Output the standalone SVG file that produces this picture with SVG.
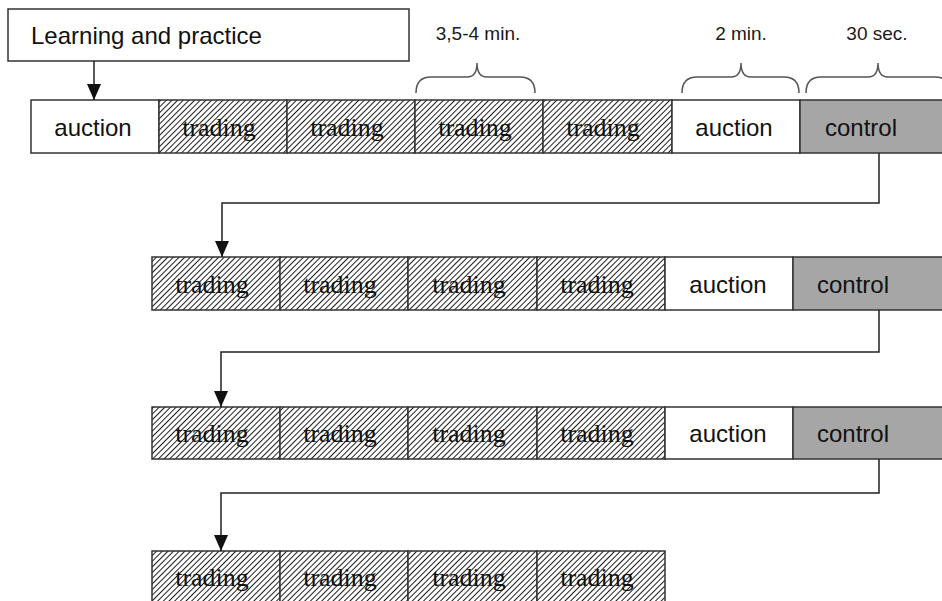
<svg xmlns="http://www.w3.org/2000/svg" width="942" height="601" viewBox="0 0 942 601">
<defs>
<pattern id="hatch" patternUnits="userSpaceOnUse" width="4" height="4" patternTransform="rotate(45)">
<rect width="4" height="4" fill="#ffffff"/>
<line x1="0" y1="0" x2="0" y2="4" stroke="#111" stroke-width="1.9"/>
</pattern>
<marker id="arr" markerWidth="16" markerHeight="14" refX="16" refY="7" orient="auto" markerUnits="userSpaceOnUse" viewBox="0 0 16 14">
<path d="M0,0 L16,7 L0,14 Z" fill="#111"/>
</marker>
</defs>
<style>
.cell{stroke:#333;stroke-width:1.5}
.trade{fill:url(#hatch)}
.auc{fill:#ffffff}
.ctl{fill:#a6a6a6}
.lbl{font-family:"Liberation Sans",Arial,sans-serif;font-size:24px;fill:#111;text-anchor:middle}
.tlbl{font-family:"Liberation Serif","Times New Roman",serif;font-size:26px;fill:#111;text-anchor:middle}
.dur{font-family:"Liberation Sans",Arial,sans-serif;font-size:19px;fill:#1a1a1a;text-anchor:middle}
.brace{fill:none;stroke:#555;stroke-width:1.5}
.conn{fill:none;stroke:#222;stroke-width:1.5}
</style>
<rect width="942" height="601" fill="#ffffff"/>

<g id="learning">
<rect class="cell" x="8" y="9" width="401" height="52" fill="#ffffff"/>
<text x="31" y="44" style="font-family:'Liberation Sans',Arial,sans-serif;font-size:24px;fill:#111">Learning and practice</text>
</g>

<g id="durations">
<text class="dur" x="478" y="40">3,5-4 min.</text>
<path class="brace" d="M416,93 Q416,77 431,77 L467,77 Q477,77 477,63 Q477,77 487,77 L520,77 Q535,77 535,93"/>
<text class="dur" x="741" y="40">2 min.</text>
<path class="brace" d="M682,93 Q682,77 697,77 L731,77 Q741,77 741,63 Q741,77 751,77 L784,77 Q799,77 799,93"/>
<text class="dur" x="877" y="40">30 sec.</text>
<path class="brace" d="M806,93 Q806,77 821,77 L868,77 Q878,77 878,63 Q878,77 888,77 L935,77 Q950,77 950,93"/>
</g>

<g id="row1">
<rect class="cell auc" x="31" y="100" width="128" height="53"/>
<text class="lbl" x="93" y="136">auction</text>
<rect class="cell trade" x="159" y="100" width="128" height="53"/>
<text class="tlbl" x="219" y="136">trading</text>
<rect class="cell trade" x="287" y="100" width="128" height="53"/>
<text class="tlbl" x="347" y="136">trading</text>
<rect class="cell trade" x="415" y="100" width="128" height="53"/>
<text class="tlbl" x="475" y="136">trading</text>
<rect class="cell trade" x="543" y="100" width="129" height="53"/>
<text class="tlbl" x="603" y="136">trading</text>
<rect class="cell auc" x="672" y="100" width="128" height="53"/>
<text class="lbl" x="734" y="136">auction</text>
<rect class="cell ctl" x="800" y="100" width="160" height="53"/>
<text class="lbl" x="861" y="136">control</text>
</g>

<g id="row2">
<rect class="cell trade" x="152" y="257" width="128" height="53"/>
<text class="tlbl" x="212" y="293">trading</text>
<rect class="cell trade" x="280" y="257" width="128" height="53"/>
<text class="tlbl" x="340" y="293">trading</text>
<rect class="cell trade" x="408" y="257" width="129" height="53"/>
<text class="tlbl" x="469" y="293">trading</text>
<rect class="cell trade" x="537" y="257" width="128" height="53"/>
<text class="tlbl" x="597" y="293">trading</text>
<rect class="cell auc" x="665" y="257" width="128" height="53"/>
<text class="lbl" x="728" y="293">auction</text>
<rect class="cell ctl" x="793" y="257" width="160" height="53"/>
<text class="lbl" x="853" y="293">control</text>
</g>

<g id="row3">
<rect class="cell trade" x="152" y="407" width="128" height="52"/>
<text class="tlbl" x="212" y="442">trading</text>
<rect class="cell trade" x="280" y="407" width="128" height="52"/>
<text class="tlbl" x="340" y="442">trading</text>
<rect class="cell trade" x="408" y="407" width="129" height="52"/>
<text class="tlbl" x="469" y="442">trading</text>
<rect class="cell trade" x="537" y="407" width="128" height="52"/>
<text class="tlbl" x="597" y="442">trading</text>
<rect class="cell auc" x="665" y="407" width="128" height="52"/>
<text class="lbl" x="728" y="442">auction</text>
<rect class="cell ctl" x="793" y="407" width="160" height="52"/>
<text class="lbl" x="853" y="442">control</text>
</g>

<g id="row4">
<rect class="cell trade" x="152" y="551" width="128" height="53"/>
<text class="tlbl" x="212" y="586">trading</text>
<rect class="cell trade" x="280" y="551" width="128" height="53"/>
<text class="tlbl" x="340" y="586">trading</text>
<rect class="cell trade" x="408" y="551" width="129" height="53"/>
<text class="tlbl" x="469" y="586">trading</text>
<rect class="cell trade" x="537" y="551" width="128" height="53"/>
<text class="tlbl" x="597" y="586">trading</text>
</g>

<g id="connectors">
<path class="conn" d="M94,61 L94,100" marker-end="url(#arr)"/>
<path class="conn" d="M879,153 L879,203 L222,203 L222,257" marker-end="url(#arr)"/>
<path class="conn" d="M879,310 L879,352 L221,352 L221,407" marker-end="url(#arr)"/>
<path class="conn" d="M879,459 L879,493 L221,493 L221,551" marker-end="url(#arr)"/>
</g>
</svg>
